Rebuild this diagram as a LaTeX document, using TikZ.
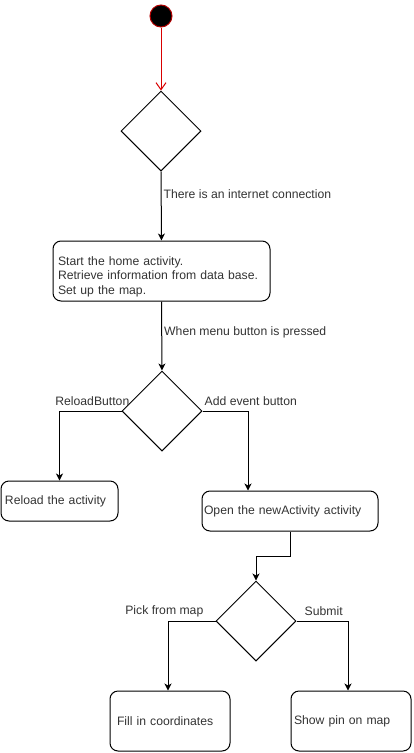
\documentclass[tikz,border=0pt]{standalone}
\usepackage{fontspec}
\setmainfont{Liberation Sans}
\usetikzlibrary{shapes.geometric,arrows.meta}
\begin{document}
\begin{tikzpicture}[x=1pt,y=-1pt,
  every node/.style={font=\fontsize{12.2}{14.6}\selectfont, text=black!80},
  box/.style={draw=black, line width=1pt, rounded corners=8pt, align=left, inner ysep=0pt},
  dia/.style={draw=black, line width=1pt, diamond, shape aspect=1, minimum width=80pt, minimum height=80pt, inner sep=0pt},
  arr/.style={draw=black, line width=1pt, -{Stealth[length=7pt,width=7pt,inset=2pt]}},
  elabel/.style={inner sep=0pt}]
\useasboundingbox (0,0) rectangle (413,753);
% start
\node (start) [circle, fill=black, draw=red!70!black, line width=1pt, minimum size=22pt, inner sep=0pt] at (161,16) {};
% diamonds
\node (d1) [dia] at (161,131) {};
\node (d2) [dia] at (162,411) {};
\node (d3) [dia] at (256,621) {};
% boxes
\node (home) [box, minimum height=60pt, text width=207pt, inner xsep=5pt] at (161.5,271)
  {\rule{0pt}{20pt}Start the home activity.\\Retrieve information from data base.\\Set up the map.};
\node (reload) [box, minimum height=40pt, text width=109pt, inner xsep=4pt] at (59.5,501) {Reload the activity};
\node (open) [box, minimum height=40pt, text width=172pt, inner xsep=2pt] at (290,511) {Open the newActivity activity};
\node (fill) [box, minimum height=60pt, text width=106pt, inner xsep=7pt] at (170,721) {Fill in coordinates};
\node (pin) [box, minimum height=60pt, text width=114pt, inner xsep=3pt] at (351,721) {Show pin on map};
% connectors
\draw[red!85!black, line width=1pt, -{Straight Barb[length=7pt,width=10pt]}] (start) -- (d1.north);
\draw[arr] (d1.south) -- node (l1) [elabel, anchor=west, pos=0.33, xshift=2pt] {There is an internet connection} (home.north);
\draw[arr] (home.south) -- node (l2) [elabel, anchor=west, pos=0.44, xshift=2pt] {When menu button is pressed} (d2.north);
\draw[arr] (d2.west) -| (reload.north);
\draw[arr] (d2.east) -| ([xshift=-42pt]open.north);
\draw[arr] (open.south) -- ++(0,25) -| (d3.north);
\draw[arr] (d3.west) -| ([xshift=-2pt]fill.north);
\draw[arr] (d3.east) -| ([xshift=-3pt]pin.north);
% branch labels
\node (l3) [elabel, anchor=east] at ([xshift=8pt,yshift=10pt]d2.west) {ReloadButton};
\node (l4) [elabel, anchor=west] at ([xshift=2pt,yshift=10pt]d2.east) {Add event button};
\node (l5) [elabel, anchor=east] at ([xshift=-12pt,yshift=10pt]d3.west) {Pick from map};
\node (l6) [elabel, anchor=west] at ([xshift=8pt,yshift=10pt]d3.east) {Submit};
\end{tikzpicture}
\end{document}
